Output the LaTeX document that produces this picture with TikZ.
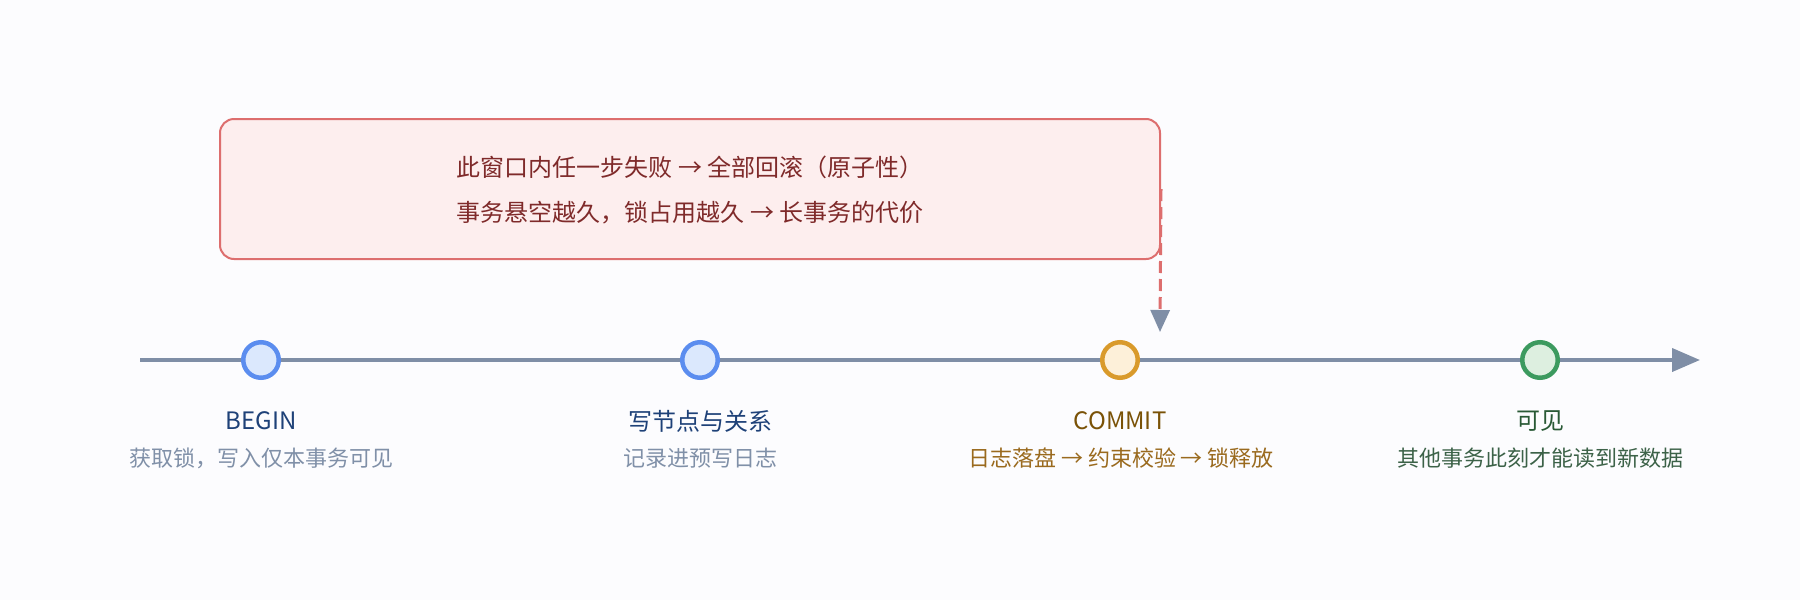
\documentclass[tikz,border=0pt]{standalone}
\usepackage{fontspec}
\setmainfont{Noto Sans CJK SC}
\usetikzlibrary{arrows.meta}

\definecolor{bgc}{HTML}{FCFCFE}
\definecolor{axisc}{HTML}{7F8EA6}
\definecolor{bluefill}{HTML}{DBE8FD}
\definecolor{bluedraw}{HTML}{5B8DEF}
\definecolor{bluetext}{HTML}{1E4178}
\definecolor{graytext}{HTML}{8090A8}
\definecolor{orfill}{HTML}{FDF0D9}
\definecolor{ordraw}{HTML}{D99A2B}
\definecolor{ortext}{HTML}{7A5207}
\definecolor{orsub}{HTML}{9A6A1E}
\definecolor{grfill}{HTML}{DDEFE0}
\definecolor{grdraw}{HTML}{3C9A5F}
\definecolor{grtext}{HTML}{2A5A36}
\definecolor{grsub}{HTML}{3C6248}
\definecolor{redfill}{HTML}{FDEEEE}
\definecolor{reddraw}{HTML}{DD6E6E}
\definecolor{redtext}{HTML}{7F2A2A}

\begin{document}
\begin{tikzpicture}[x=0.5pt, y=-0.5pt,
    dot/.style={circle, minimum size=17.75pt, inner sep=0pt, line width=2.25pt},
    ttl/.style={font=\fontsize{12}{14}\selectfont},
    sub/.style={font=\fontsize{11}{13}\selectfont}]
        \fill[bgc] (0,0) rectangle (1800,600);
        \useasboundingbox (0,0) rectangle (1800,600);

        % callout box
        \node[draw=reddraw, fill=redfill, line width=1pt, rounded corners=7pt,
              minimum width=470pt, minimum height=70pt] (box) at (690,189) {};
        \node[text=redtext, align=left, font=\fontsize{12}{22.5}\selectfont] (boxtxt) at (690,190)
            {此窗口内任一步失败 → 全部回滚（原子性）\\事务悬空越久，锁占用越久 → 长事务的代价};
        \coordinate (cend) at (1160,332);
        \draw[reddraw, line width=1.5pt, dash pattern=on 6pt off 3pt,
              -{Triangle[length=11pt, width=9.5pt, color=axisc, fill=axisc]}] (box.east) -- (cend);

        % timeline
        \coordinate (tl) at (140,360);
        \coordinate (tr) at (1700,360);
        \draw[axisc, line width=2pt, -{Triangle[length=14pt, width=11.5pt]}] (tl) -- (tr);

        \node[dot, draw=bluedraw, fill=bluefill] (begin) at (261,360) {};
        \node[dot, draw=bluedraw, fill=bluefill] (write) at (700,360) {};
        \node[dot, draw=ordraw, fill=orfill] (commit) at (1120,360) {};
        \node[dot, draw=grdraw, fill=grfill] (vis) at (1540,360) {};

        \node[ttl, text=bluetext] (begint) at (261,421) {BEGIN};
        \node[sub, text=graytext] (begins) at (261,458) {获取锁，写入仅本事务可见};
        \node[ttl, text=bluetext] (writet) at (700,421) {写节点与关系};
        \node[sub, text=graytext] (writes) at (700,458) {记录进预写日志};
        \node[ttl, text=ortext] (committ) at (1120,421) {COMMIT};
        \node[sub, text=orsub] (commits) at (1121,458) {日志落盘 → 约束校验 → 锁释放};
        \node[ttl, text=grtext] (vist) at (1540,421) {可见};
        \node[sub, text=grsub] (viss) at (1540,458) {其他事务此刻才能读到新数据};
    \end{tikzpicture}
\end{document}
